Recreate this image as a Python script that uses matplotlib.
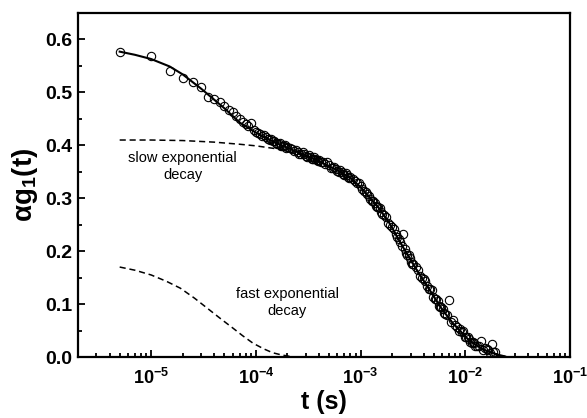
import numpy as np
import matplotlib
matplotlib.use("Agg")
from matplotlib import pyplot as plt
from matplotlib.ticker import LogLocator, MultipleLocator, FixedLocator, NullFormatter

plt.rcParams['font.family'] = ['Liberation Sans', 'DejaVu Sans']
plt.rcParams['mathtext.fontset'] = 'custom'
plt.rcParams['mathtext.rm'] = 'Liberation Sans:bold'
plt.rcParams['mathtext.it'] = 'Liberation Sans:bold'
plt.rcParams['mathtext.bf'] = 'Liberation Sans:bold'
plt.rcParams['mathtext.default'] = 'rm'

# measured correlation data, run 1 (t in microseconds)
t1_us = [5, 10, 15, 20, 25, 30, 35, 40, 45, 50, 55, 60, 65, 70, 75, 80, 85, 90, 95, 100,
         110, 120, 130, 140, 150, 160, 170, 180, 190, 200,
         220, 240, 260, 280, 300, 320, 340, 360, 380, 400,
         440, 480, 520, 560, 600, 640, 680, 720, 760, 800,
         880, 960, 1040, 1120, 1200, 1280, 1360, 1440, 1520, 1600,
         1760, 1920, 2080, 2240, 2400, 2560, 2720, 2880, 3040, 3200,
         3520, 3840, 4160, 4480, 4800, 5120, 5440, 5760, 6080, 6400,
         7040, 7680, 8320, 8960, 9600, 10240, 10880, 11520, 12160, 12800,
         14080, 15360, 16640, 17920, 19200]
g1_run1 = [0.577, 0.569, 0.540, 0.527, 0.520, 0.510, 0.492, 0.488, 0.481, 0.474,
           0.466, 0.462, 0.455, 0.449, 0.444, 0.440, 0.436, 0.443, 0.428, 0.425,
           0.421, 0.419, 0.411, 0.412, 0.408, 0.402, 0.405, 0.399, 0.401, 0.396,
           0.393, 0.391, 0.384, 0.387, 0.380, 0.382, 0.375, 0.377, 0.372, 0.373,
           0.368, 0.369, 0.358, 0.359, 0.352, 0.354, 0.346, 0.347, 0.341, 0.340,
           0.333, 0.328, 0.317, 0.312, 0.305, 0.294, 0.291, 0.283, 0.281, 0.271,
           0.264, 0.249, 0.241, 0.226, 0.218, 0.232, 0.196, 0.192, 0.180, 0.176,
           0.165, 0.149, 0.144, 0.128, 0.127, 0.110, 0.106, 0.094, 0.091, 0.081,
           0.108, 0.070, 0.057, 0.052, 0.049, 0.038, 0.034, 0.026, 0.027, 0.021,
           0.031, 0.017, 0.013, 0.024, 0.009]

# run 2
t2_us = [105, 115, 125, 135, 145, 155, 165, 175, 185, 195,
         210, 230, 250, 270, 290, 310, 330, 350, 370, 390,
         420, 460, 500, 540, 580, 620, 660, 700, 740, 780,
         840, 920, 1000, 1080, 1160, 1240, 1320, 1400, 1480, 1560,
         1680, 1840, 2000, 2160, 2320, 2480, 2640, 2800, 2960, 3120,
         3360, 3680, 4000, 4320, 4640, 4960, 5280, 5600, 5920, 6240,
         6720, 7360, 8000, 8640, 9280, 9920, 10560, 11200, 11840, 12480,
         13440, 14720, 16000, 17280, 18560]
g1_run2 = [0.423, 0.417, 0.416, 0.410, 0.409, 0.404, 0.403, 0.398, 0.399, 0.394,
           0.395, 0.389, 0.388, 0.383, 0.384, 0.378, 0.378, 0.374, 0.375, 0.370,
           0.369, 0.364, 0.362, 0.357, 0.356, 0.350, 0.349, 0.344, 0.344, 0.339,
           0.336, 0.329, 0.323, 0.313, 0.308, 0.298, 0.294, 0.286, 0.283, 0.274,
           0.268, 0.254, 0.245, 0.232, 0.223, 0.209, 0.204, 0.192, 0.187, 0.176,
           0.170, 0.154, 0.147, 0.134, 0.128, 0.113, 0.109, 0.097, 0.094, 0.083,
           0.079, 0.066, 0.061, 0.050, 0.048, 0.038, 0.037, 0.029, 0.028, 0.020,
           0.020, 0.014, 0.015, 0.008, 0.010]

# fit curve (sum of both decays)
fit_us = [5, 7, 10, 15, 20, 30, 50, 70, 100, 150, 200, 300, 430, 600, 800, 1000,
          1200, 1500, 1900, 2500, 3400, 4800, 6000, 7600, 10700, 13000, 15800,
          20000, 24000]
fit_y = [0.577, 0.571, 0.563, 0.549, 0.534, 0.507, 0.470, 0.443, 0.424, 0.406,
         0.395, 0.381, 0.367, 0.353, 0.338, 0.321, 0.303, 0.281, 0.252, 0.210,
         0.166, 0.120, 0.090, 0.064, 0.033, 0.021, 0.012, 0.005, 0.001]

# slow exponential component
slow_us = [5, 10, 20, 40, 70, 100, 150, 200, 300, 430, 600, 800, 1000, 1200, 1500,
           1900, 2500, 3400, 4800, 6000, 7600, 10700, 13000, 15800, 20000, 24000]
slow_y = [0.410, 0.410, 0.409, 0.406, 0.402, 0.399, 0.394, 0.389, 0.380, 0.367,
          0.353, 0.338, 0.321, 0.303, 0.281, 0.252, 0.210, 0.166, 0.120, 0.090,
          0.064, 0.033, 0.021, 0.012, 0.005, 0.001]

# fast exponential component
fast_us = [5, 7, 10, 14, 19, 26, 36, 47, 60, 75, 94, 120, 145, 175, 200, 230]
fast_y = [0.170, 0.164, 0.155, 0.143, 0.130, 0.111, 0.089, 0.071, 0.055, 0.040,
          0.026, 0.015, 0.008, 0.004, 0.002, 0.0]

us = 1e-6

fig = plt.figure(figsize=(5.87, 4.18), dpi=100)
ax = fig.add_axes([0.1329, 0.1459, 0.8381, 0.823])

ax.plot(np.array(slow_us) * us, slow_y, '--', color='black', lw=1.1, dashes=(4, 2.5))
ax.plot(np.array(fast_us) * us, fast_y, '--', color='black', lw=1.1, dashes=(4, 2.5))
ax.plot(np.array(fit_us) * us, fit_y, '-', color='black', lw=1.5)
ax.plot(np.array(t1_us) * us, g1_run1, 'o', mfc='none', mec='black', ms=6, mew=0.8)
ax.plot(np.array(t2_us) * us, g1_run2, 'o', mfc='none', mec='black', ms=6, mew=0.8)

ax.set_xscale('log')
ax.set_xlim(2e-6, 1e-1)
ax.set_ylim(0, 0.65)

ax.xaxis.set_major_locator(FixedLocator([1e-5, 1e-4, 1e-3, 1e-2, 1e-1]))
ax.set_xticklabels([r'$10^{-5}$', r'$10^{-4}$', r'$10^{-3}$', r'$10^{-2}$', r'$10^{-1}$'])
ax.xaxis.set_minor_locator(LogLocator(base=10, subs=np.arange(2, 10), numticks=20))
ax.xaxis.set_minor_formatter(NullFormatter())
ax.yaxis.set_minor_locator(MultipleLocator(0.05))
ax.set_yticks([0, 0.1, 0.2, 0.3, 0.4, 0.5, 0.6])
ax.set_yticklabels(['0.0', '0.1', '0.2', '0.3', '0.4', '0.5', '0.6'])

ax.tick_params(which='both', direction='in', top=False, right=False, width=1.3)
ax.tick_params(which='major', length=5, labelsize=14, pad=4)
ax.tick_params(which='minor', length=3)
ax.tick_params(axis='x', which='major', pad=8, labelsize=13)
for lab in ax.get_yticklabels():
    lab.set_fontweight('bold')
for s in ax.spines.values():
    s.set_linewidth(1.6)

ax.text(2e-5, 0.36, 'slow exponential\ndecay', ha='center', va='center',
        fontsize=10.5, linespacing=1.2)
ax.text(2e-4, 0.103, 'fast exponential\ndecay', ha='center', va='center',
        fontsize=10.5, linespacing=1.2)

ax.set_xlabel('t (s)', fontsize=18, fontweight='bold', labelpad=1)
ax.set_ylabel('αg$_1$(t)', fontsize=20, fontweight='bold', labelpad=4)

plt.savefig('out.png', dpi=100)
